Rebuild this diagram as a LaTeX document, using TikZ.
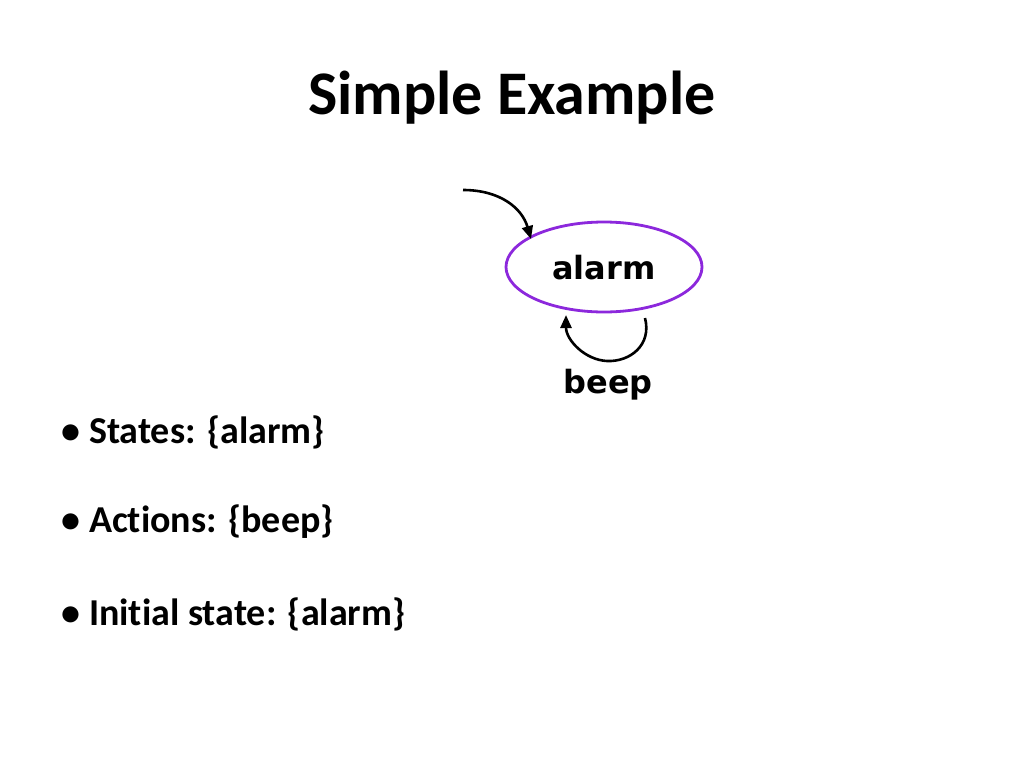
\documentclass[tikz,border=0pt]{standalone}
\usepackage{fontspec}
\setmainfont{Carlito}[Ligatures=NoCommon]
\newfontfamily\diag{DejaVu Sans}
\usetikzlibrary{arrows.meta}
\definecolor{stpurple}{RGB}{140,40,220}
\begin{document}
\begin{tikzpicture}[x=1pt,y=-1pt,
  bul/.style={anchor=west,font=\bfseries\fontsize{38}{44}\selectfont},
  arr/.style={line width=2.6pt,-{Triangle[length=13pt,width=11pt]}},
  lab/.style={font=\diag\bfseries\fontsize{32}{38}\selectfont}]
\useasboundingbox (0,0) rectangle (1024,768);
\node[font=\bfseries\fontsize{62}{72}\selectfont] (title) at (512,98) {Simple Example};
\draw[stpurple,line width=2.8pt] (604,267) ellipse [x radius=98,y radius=45];
\node[lab,inner sep=0] (alarm) at (604,268) {alarm};
\coordinate (s) at (463,190);
\coordinate (a1) at (531,239);
\draw[arr] (s) .. controls (500,190) and (522,208) .. (a1);
\coordinate (l1) at (645,318);
\coordinate (l2) at (566,315);
\draw[arr] (l1) .. controls (652,345) and (630,362) .. (607,361) .. controls (585,360) and (566,340) .. (l2);
\node[lab,inner sep=0] (beep) at (608,385) {beep};
\node[bul] (b1) at (58,432) {• States: \{alarm\}};
\node[bul] (b2) at (58,522) {• Actions: \{beep\}};
\node[bul] (b3) at (58,614) {• Initial state: \{alarm\}};
\end{tikzpicture}
\end{document}
